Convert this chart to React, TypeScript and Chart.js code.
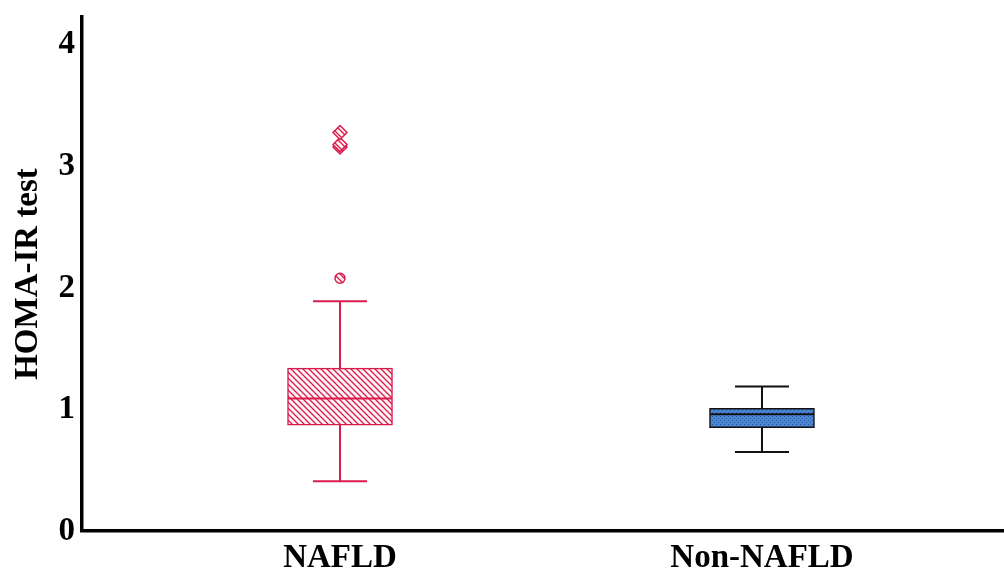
import React, { useEffect, useRef } from 'react';
import { Chart, registerables } from 'chart.js';
Chart.register(...registerables);

const categories = ['NAFLD', 'Non-NAFLD'];
const positions = [1, 2];
const whiskerLow = [0.41, 0.65];
const q1 = [0.87, 0.85];
const median = [1.09, 0.96];
const q3 = [1.34, 1.01];
const whiskerHigh = [1.89, 1.19];
const outlierValues = [2.08, 3.16, 3.18, 3.28];
const outlierStyles = ['circle', 'rectRot', 'rectRot', 'rectRot'];
const yTicks = [0, 1, 2, 3, 4];

const RED = '#d91c4c';
const lineColors = [RED, '#111111'];

function makeRedPattern(ctx: CanvasRenderingContext2D) {
  const c = document.createElement('canvas');
  c.width = 6; c.height = 6;
  const g = c.getContext('2d')!;
  g.fillStyle = '#fff4f6';
  g.fillRect(0, 0, 6, 6);
  g.strokeStyle = RED;
  g.lineWidth = 1.3;
  g.beginPath();
  g.moveTo(-1, -1); g.lineTo(7, 7);
  g.moveTo(-4, 2); g.lineTo(4, 10);
  g.moveTo(2, -4); g.lineTo(10, 4);
  g.stroke();
  return ctx.createPattern(c, 'repeat')!;
}

function makeBluePattern(ctx: CanvasRenderingContext2D) {
  const c = document.createElement('canvas');
  c.width = 4; c.height = 4;
  const g = c.getContext('2d')!;
  g.fillStyle = '#4a86d6';
  g.fillRect(0, 0, 4, 4);
  g.fillStyle = 'rgba(20,50,110,0.55)';
  g.fillRect(0, 0, 1, 1);
  g.fillRect(2, 2, 1, 1);
  return ctx.createPattern(c, 'repeat')!;
}

const boxPlugin = {
  id: 'boxWhiskers',
  beforeDatasetsDraw(chart: any) {
    const x = chart.scales.x, y = chart.scales.y, ctx = chart.ctx;
    ctx.save();
    ctx.lineWidth = 2;
    positions.forEach((p, i) => {
      const px = x.getPixelForValue(p);
      ctx.strokeStyle = lineColors[i];
      ctx.beginPath();
      ctx.moveTo(px, y.getPixelForValue(whiskerLow[i]));
      ctx.lineTo(px, y.getPixelForValue(whiskerHigh[i]));
      [whiskerLow[i], whiskerHigh[i]].forEach((v) => {
        const py = y.getPixelForValue(v);
        ctx.moveTo(px - 27, py);
        ctx.lineTo(px + 27, py);
      });
      ctx.stroke();
    });
    ctx.restore();
  },
  afterDatasetsDraw(chart: any) {
    const x = chart.scales.x, y = chart.scales.y, ctx = chart.ctx;
    ctx.save();
    ctx.lineWidth = 2;
    positions.forEach((p, i) => {
      const px = x.getPixelForValue(p);
      const py = y.getPixelForValue(median[i]);
      ctx.strokeStyle = lineColors[i];
      ctx.beginPath();
      ctx.moveTo(px - 52, py);
      ctx.lineTo(px + 52, py);
      ctx.stroke();
    });
    ctx.restore();
  },
};

export default function App() {
  const ref = useRef<HTMLCanvasElement>(null);
  useEffect(() => {
    document.body.style.margin = '0';
    const canvas = ref.current!;
    const ctx = canvas.getContext('2d')!;
    const redPat = makeRedPattern(ctx);
    const bluePat = makeBluePattern(ctx);
    const chart = new Chart(canvas, {
      type: 'bar',
      data: {
        datasets: [
          {
            type: 'bar',
            data: positions.map((p, i) => ({ x: p, y: [q1[i], q3[i]] })) as any,
            backgroundColor: [redPat, bluePat] as any,
            borderColor: lineColors,
            borderWidth: 1.5,
            borderSkipped: false,
            barThickness: 105,
          } as any,
          {
            type: 'scatter',
            data: outlierValues.map((v) => ({ x: positions[0], y: v })),
            pointStyle: outlierStyles as any,
            pointRadius: [5, 7, 7, 7],
            backgroundColor: redPat as any,
            borderColor: RED,
            borderWidth: 1.5,
          } as any,
        ],
      },
      options: {
        animation: false,
        responsive: false,
        layout: { autoPadding: false, padding: { top: 17, right: 0, left: 0, bottom: 0 } },
        plugins: { legend: { display: false }, tooltip: { enabled: false } },
        scales: {
          x: {
            type: 'linear',
            offset: false,
            bounds: 'ticks',
            min: 0.3886,
            max: 2.5735,
            grid: { display: false, drawTicks: false },
            border: { display: true, color: '#000', width: 3.5 },
            afterBuildTicks: (s: any) => { s.ticks = positions.map((v) => ({ value: v })); },
            afterFit: (s: any) => { s.height = 41; s.paddingLeft = 0; s.paddingRight = 0; },
            ticks: {
              padding: 8,
              color: '#000',
              font: { family: 'Liberation Serif', size: 33, weight: 'bold' },
              callback: (v: any) => categories[positions.indexOf(v)] ?? '',
              maxRotation: 0,
            },
          },
          y: {
            min: 0,
            max: 4.23,
            grid: { display: false, drawTicks: false },
            border: { display: true, color: '#000', width: 3.5 },
            afterBuildTicks: (s: any) => { s.ticks = yTicks.map((v) => ({ value: v })); },
            afterFit: (s: any) => { s.width = 82; s.paddingTop = 0; s.paddingBottom = 0; },
            ticks: {
              padding: 7,
              color: '#000',
              font: { family: 'Liberation Serif', size: 33, weight: 'bold' },
            },
            title: {
              display: true,
              text: 'HOMA-IR test',
              color: '#000',
              font: { family: 'Liberation Serif', size: 33, weight: 'bold' },
              padding: { top: 9, bottom: 0 },
            },
          },
        },
      },
      plugins: [boxPlugin],
    });
    return () => chart.destroy();
  }, []);
  return <canvas ref={ref} width={1004} height={572} style={{ display: 'block' }} />;
}
